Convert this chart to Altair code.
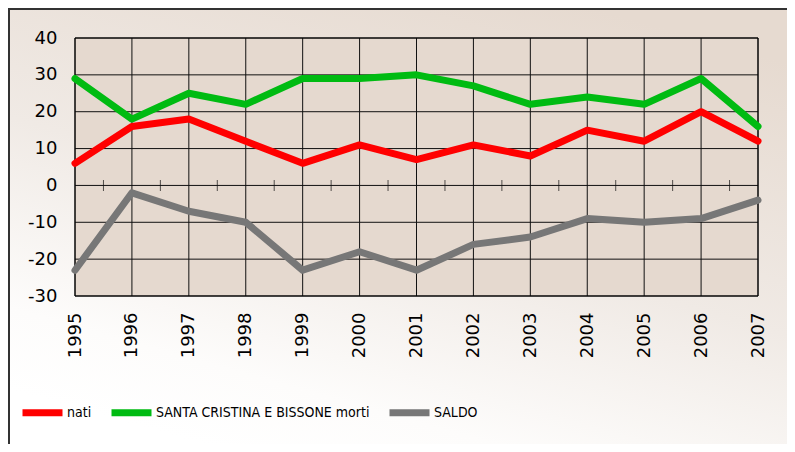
import altair as alt
import pandas as pd

years = [1995, 1996, 1997, 1998, 1999, 2000, 2001, 2002, 2003, 2004, 2005, 2006, 2007]
nati = [6, 16, 18, 12, 6, 11, 7, 11, 8, 15, 12, 20, 12]
morti = [29, 18, 25, 22, 29, 29, 30, 27, 22, 24, 22, 29, 16]
saldo = [-23, -2, -7, -10, -23, -18, -23, -16, -14, -9, -10, -9, -4]
series_names = ["nati", "SANTA CRISTINA E BISSONE morti", "SALDO"]
series_colors = ["#FF0000", "#00BB12", "#777777"]
y_ticks = [-30, -20, -10, 0, 10, 20, 30, 40]

W, H = 683, 258
PL, PT, PR, PB = 67, 30, 29, 148

rows = []
for name, vals in zip(series_names, [nati, morti, saldo]):
    for yr, v in zip(years, vals):
        rows.append({"anno": yr, "serie": name, "valore": v})
df = pd.DataFrame(rows)

xscale = alt.Scale(domain=[years[0], years[-1]], nice=False, zero=False)
yscale = alt.Scale(domain=[y_ticks[0], y_ticks[-1]], nice=False, zero=False)

xaxis = alt.Axis(values=years, format="d", labelAngle=-90, grid=False, ticks=False,
                 domain=False, title=None, labelFontSize=18, labelFont="DejaVu Sans",
                 labelColor="#000000", labelPadding=16, zindex=1)
yaxis = alt.Axis(values=y_ticks, grid=False, ticks=False, domain=False, title=None,
                 labelFontSize=18, labelFont="DejaVu Sans", labelColor="#000000",
                 labelPadding=18, zindex=1, labelExpr="toString(datum.value)")

one = pd.DataFrame({"k": [0]})

bg = alt.Chart(one).mark_rect(
    color=alt.LinearGradient(
        gradient="linear",
        stops=[alt.GradientStop(color="#E6DAD0", offset=0),
               alt.GradientStop(color="#F0EAE5", offset=0.5),
               alt.GradientStop(color="#FDFCFB", offset=0.85),
               alt.GradientStop(color="#FFFFFF", offset=1)],
        x1=0.75, y1=0, x2=0.25, y2=1),
).encode(x=alt.value(-PL), x2=alt.value(W + PR), y=alt.value(-PT), y2=alt.value(H + PB))

frame_left = alt.Chart(one).mark_rule(color="#333333", strokeWidth=2).encode(
    x=alt.value(-PL + 1), y=alt.value(-PT), y2=alt.value(H + PB))
frame_top = alt.Chart(one).mark_rule(color="#333333", strokeWidth=2).encode(
    x=alt.value(-PL), x2=alt.value(W + PR), y=alt.value(-PT + 1))

plotbg = alt.Chart(one).mark_rect(color="#E5D9CF").encode(
    x=alt.value(0), x2=alt.value(W), y=alt.value(0), y2=alt.value(H))

hgrid = alt.Chart(pd.DataFrame({"v": y_ticks})).mark_rule(color="#111111", strokeWidth=1).encode(
    y=alt.Y("v:Q", scale=yscale, axis=yaxis), x=alt.value(0), x2=alt.value(W))
vgrid = alt.Chart(pd.DataFrame({"anno": years})).mark_rule(color="#111111", strokeWidth=1).encode(
    x=alt.X("anno:Q", scale=xscale, axis=xaxis), y=alt.value(0), y2=alt.value(H))

mids = [(a + b) / 2 for a, b in zip(years[:-1], years[1:])]
minor = alt.Chart(pd.DataFrame({"m": mids})).mark_tick(
    orient="vertical", size=11, thickness=1, color="#111111").encode(
    x=alt.X("m:Q", scale=xscale, axis=xaxis), y=alt.datum(0, scale=yscale, axis=yaxis))

border = alt.Chart(one).mark_rect(fill=None, stroke="#000000", strokeWidth=1).encode(
    x=alt.value(0), x2=alt.value(W), y=alt.value(0), y2=alt.value(H))

lines = alt.Chart(df).mark_line(strokeWidth=7, strokeJoin="round", strokeCap="round").encode(
    x=alt.X("anno:Q", scale=xscale, axis=xaxis),
    y=alt.Y("valore:Q", scale=yscale, axis=yaxis),
    color=alt.Color("serie:N", scale=alt.Scale(domain=series_names, range=series_colors),
                    legend=alt.Legend(orient="none", legendX=-56, legendY=351,
                                      direction="horizontal", title=None,
                                      symbolType="stroke", symbolStrokeWidth=7, symbolSize=1600,
                                      labelFont="Liberation Sans Narrow, DejaVu Sans Condensed, Roboto Condensed, Liberation Sans",
                                      labelFontSize=14, labelLimit=0,
                                      labelColor="#000000", labelOffset=1, columnPadding=5,
                                      padding=0)),
    order=alt.Order("anno:Q"),
)

chart = alt.layer(bg, frame_left, frame_top, plotbg, hgrid, vgrid, minor, border, lines).properties(
    width=W, height=H,
    autosize=alt.AutoSizeParams(type="none"),
    padding={"left": PL, "top": PT, "right": PR, "bottom": PB},
).configure_view(stroke=None).configure(background="#FFFFFF")

chart.save("out.html", embed_options={"renderer": "svg", "actions": False})
